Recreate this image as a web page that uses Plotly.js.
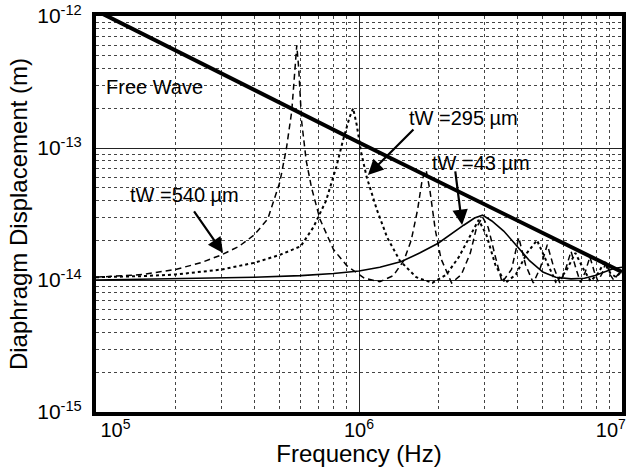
<!DOCTYPE html>
<html>
<head>
<meta charset="utf-8">
<script src="https://cdn.plot.ly/plotly-3.0.1.min.js"></script>
<style>html,body{margin:0;padding:0;background:#fff;}#chart{width:629px;height:467px;}</style>
</head>
<body>
<div id="chart"></div>
<script>
// Free wave
var freeFreq = [1e5, 1e6, 1e7];
var freeDisp = [1.1e-12, 1.1e-13, 1.15e-14];

// tW = 540 um (dashed)
var f540 = [1e5,1.5e5,2e5,2.5e5,3e5,3.5e5,4e5,4.5e5,5e5,5.3e5,5.55e5,5.7e5,5.8e5,5.9e5,6.05e5,6.3e5,6.6e5,7.1e5,8e5,9e5,1.05e6,1.2e6,1.35e6,1.48e6,1.58e6,1.67e6,1.74e6,1.8e6,1.86e6,1.95e6,2.05e6,2.25e6,2.45e6,2.65e6,2.8e6,2.95e6,3.1e6,3.3e6,3.5e6,3.8e6,4.05e6,4.3e6,4.6e6,4.9e6,5.2e6,5.5e6,5.8e6,6.1e6,6.4e6,6.7e6,6.95e6,7.25e6,7.55e6,7.85e6,8.1e6,8.4e6,8.7e6,9e6,9.3e6,9.65e6,1e7];
var d540 = [1.05e-14,1.1e-14,1.2e-14,1.35e-14,1.55e-14,1.8e-14,2.2e-14,2.9e-14,5.5e-14,1.0e-13,1.9e-13,4.2e-13,6.0e-13,4.0e-13,1.6e-13,8.0e-14,5.0e-14,2.9e-14,1.7e-14,1.28e-14,1.03e-14,0.97e-14,1.08e-14,1.4e-14,2.0e-14,3.4e-14,5.8e-14,6.8e-14,4.8e-14,2.4e-14,1.45e-14,0.95e-14,1.1e-14,1.6e-14,2.5e-14,3.0e-14,2.5e-14,1.5e-14,0.96e-14,1.2e-14,2.1e-14,1.3e-14,0.95e-14,1.25e-14,1.85e-14,1.25e-14,0.95e-14,1.2e-14,1.65e-14,1.2e-14,0.96e-14,1.15e-14,1.5e-14,1.15e-14,0.98e-14,1.12e-14,1.38e-14,1.1e-14,1.0e-14,1.1e-14,1.18e-14];

// tW = 295 um (dotted)
var f295 = [1e5,1.5e5,2e5,3e5,4e5,5e5,6e5,6.7e5,7.5e5,8.2e5,8.7e5,9.2e5,9.5e5,9.8e5,1.02e6,1.07e6,1.17e6,1.28e6,1.43e6,1.65e6,1.9e6,2.15e6,2.4e6,2.65e6,2.85e6,3.05e6,3.3e6,3.6e6,3.95e6,4.35e6,4.75e6,5.15e6,5.6e6,6.1e6,6.65e6,7.15e6,7.6e6,8.1e6,8.55e6,9.05e6,9.5e6,1e7];
var d295 = [1.05e-14,1.07e-14,1.1e-14,1.2e-14,1.35e-14,1.55e-14,1.8e-14,2.5e-14,4.0e-14,7.2e-14,1.15e-13,1.7e-13,2.0e-13,1.5e-13,9.2e-14,6.0e-14,3.4e-14,2.1e-14,1.4e-14,1.05e-14,0.95e-14,1.1e-14,1.5e-14,2.2e-14,2.85e-14,2.2e-14,1.3e-14,0.95e-14,1.1e-14,1.6e-14,2.0e-14,1.4e-14,0.97e-14,1.15e-14,1.6e-14,1.2e-14,0.98e-14,1.12e-14,1.35e-14,1.12e-14,1.05e-14,1.17e-14];

// tW = 43 um (solid)
var f43 = [1e5,2e5,4e5,6e5,8e5,1e6,1.2e6,1.45e6,1.7e6,2e6,2.25e6,2.5e6,2.75e6,2.95e6,3.2e6,3.55e6,3.9e6,4.45e6,5e6,5.6e6,6.4e6,7.2e6,7.9e6,8.6e6,9.3e6,1e7];
var d43 = [1.0e-14,1.02e-14,1.05e-14,1.08e-14,1.12e-14,1.17e-14,1.25e-14,1.38e-14,1.6e-14,1.9e-14,2.25e-14,2.6e-14,2.95e-14,3.1e-14,2.8e-14,2.35e-14,1.9e-14,1.4e-14,1.15e-14,1.05e-14,1.02e-14,1.03e-14,1.08e-14,1.15e-14,1.22e-14,1.25e-14];

// Axis ticks
var NB = '\u00a0';
var xTickVals = [1e5, 1e6, 1e7];
var xTickText = [NB.repeat(7) + '10<sup>5</sup>', '10<sup>6</sup>', '10<sup>7</sup>' + NB.repeat(4)];
var yTickVals = [1e-15, 1e-14, 1e-13, 1e-12];
var yTickText = ['10<sup>-15</sup>', '10<sup>-14</sup>', '10<sup>-13</sup>', '10<sup>-12</sup>'];
var minorDigits = [2,3,4,5,6,7,8,9];

function minorVals(decades) {
  var out = [];
  decades.forEach(function (d) { minorDigits.forEach(function (m) { out.push(m * d); }); });
  return out;
}
var xMinor = minorVals([1e5, 1e6]);
var yMinor = minorVals([1e-15, 1e-14, 1e-13]);

var FONT = 'Liberation Sans, Arial, Helvetica, sans-serif';

var traces = [
  {x: f43, y: d43, mode: 'lines', line: {color: '#000', width: 1.6}, name: 'tW = 43 µm'},
  {x: f295, y: d295, mode: 'lines', line: {color: '#000', width: 2, dash: 'dot'}, name: 'tW = 295 µm'},
  {x: f540, y: d540, mode: 'lines', line: {color: '#000', width: 1.5, dash: '6px,4px'}, name: 'tW = 540 µm'},
  {x: freeFreq, y: freeDisp, mode: 'lines', line: {color: '#000', width: 4}, name: 'Free Wave'}
];

var arrowStyle = {showarrow: true, arrowhead: 2, arrowsize: 1.4, arrowwidth: 2.2, arrowcolor: '#000', text: '', xref: 'x', yref: 'y', standoff: 0};
function arrow(x, y, ax, ay) { return Object.assign({}, arrowStyle, {x: x, y: y, ax: ax, ay: ay}); }
function label(x, y, t) {
  return {x: x, y: y, xref: 'x', yref: 'y', text: t, showarrow: false, font: {family: FONT, size: 20, color: '#000'}, xanchor: 'center', yanchor: 'middle'};
}

var layout = {
  width: 629, height: 467,
  margin: {l: 96, r: 7, t: 16, b: 55},
  paper_bgcolor: '#fff', plot_bgcolor: '#fff',
  showlegend: false,
  font: {family: FONT, color: '#000'},
  xaxis: {
    type: 'log', range: [5, 7],
    tickmode: 'array', tickvals: xTickVals, ticktext: xTickText,
    tickfont: {size: 20, family: FONT, color: '#000'},
    ticks: '', ticklabelstandoff: -3, ticklabeloverflow: 'allow',
    showgrid: true, gridcolor: '#222', gridwidth: 1,
    minor: {tickmode: 'array', tickvals: xMinor, showgrid: true, gridcolor: '#444', griddash: 'dot', gridwidth: 1, ticks: ''},
    showline: true, linecolor: '#000', linewidth: 4, mirror: true,
    zeroline: false,
    title: {text: 'Frequency (Hz)', font: {size: 24, family: FONT, color: '#000'}, standoff: 0}
  },
  yaxis: {
    type: 'log', range: [-15, -12],
    tickmode: 'array', tickvals: yTickVals, ticktext: yTickText,
    tickfont: {size: 21, family: FONT, color: '#000'},
    ticks: '', ticklabelstandoff: 6,
    showgrid: true, gridcolor: '#222', gridwidth: 1,
    minor: {tickmode: 'array', tickvals: yMinor, showgrid: true, gridcolor: '#444', griddash: 'dot', gridwidth: 1, ticks: ''},
    showline: true, linecolor: '#000', linewidth: 4, mirror: true,
    zeroline: false,
    title: {text: 'Diaphragm Displacement (m)', font: {size: 24, family: FONT, color: '#000'}, standoff: 4}
  },
  annotations: [
    label(5.224, -12.538, 'Free Wave'),
    label(5.338, -13.356, 'tW =540 µm'),
    label(6.399, -12.773, 'tW =295 µm'),
    label(6.464, -13.114, 'tW =43 µm'),
    arrow(5.483, -13.795, -30, -43),
    arrow(6.034, -13.205, 47, -47),
    arrow(6.392, -13.583, -7, -55)
  ]
};

Plotly.newPlot('chart', traces, layout, {staticPlot: true, displayModeBar: false});
</script>
</body>
</html>
